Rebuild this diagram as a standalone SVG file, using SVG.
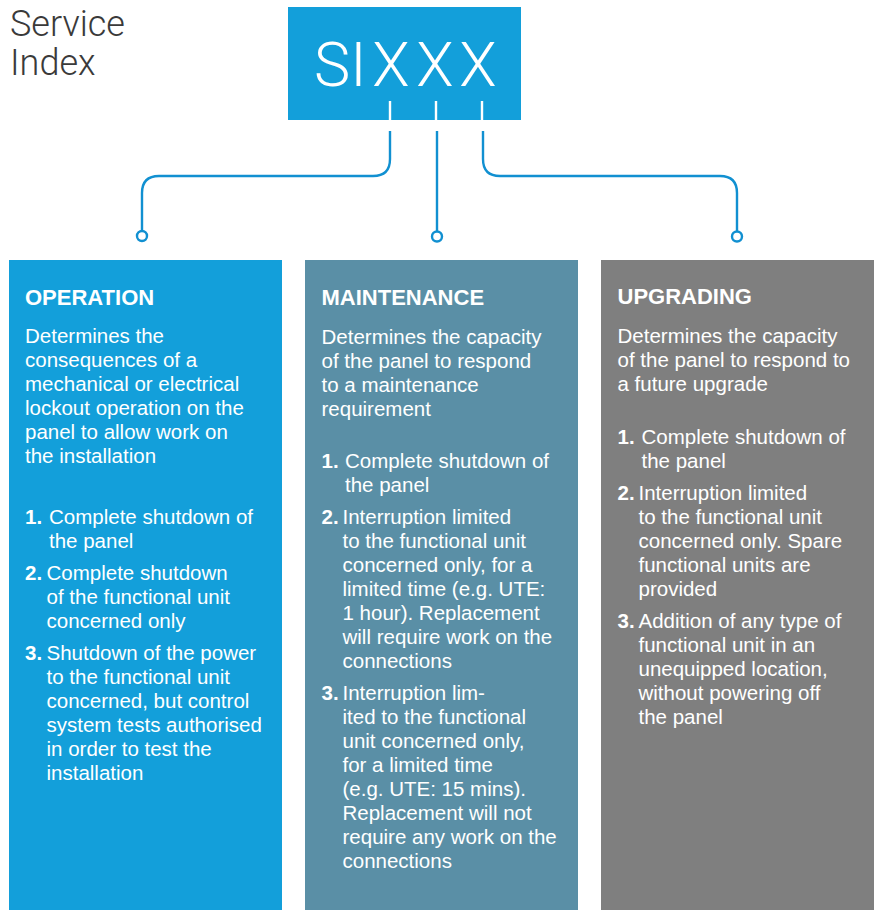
<svg xmlns="http://www.w3.org/2000/svg" width="877" height="910" viewBox="0 0 877 910">
<style>
.title{font-family:Roboto,"Liberation Sans",sans-serif;font-weight:300;font-size:36px;fill:#3a3a3a}
.code{font-family:Roboto,"Liberation Sans",sans-serif;font-weight:300;font-size:61px;fill:#ffffff}
.h{font-family:"Liberation Sans",Arial,sans-serif;font-weight:bold;font-size:22px;fill:#ffffff}
.t{font-family:"Liberation Sans",Arial,sans-serif;font-size:20.5px;fill:#ffffff}
.n{font-family:"Liberation Sans",Arial,sans-serif;font-weight:bold;font-size:20.5px;fill:#ffffff}
.conn{fill:none;stroke:#1190d1;stroke-width:2.4}
.dot{fill:#ffffff;stroke:#1190d1;stroke-width:2.4}
.tick{stroke:#ffffff;stroke-width:2.4}
</style>
<rect width="877" height="910" fill="#ffffff"/>

<g id="service-index-label">
<text class="title" x="10" y="36">Service</text>
<text class="title" x="10" y="75">Index</text>
</g>

<g id="code-box">
<rect x="288" y="7" width="233" height="113" fill="#139fda"/>
<text class="code" x="314" y="86">SI</text>
<text class="code" x="391" y="86" text-anchor="middle">X</text>
<text class="code" x="435" y="86" text-anchor="middle">X</text>
<text class="code" x="478" y="86" text-anchor="middle">X</text>
<line class="tick" x1="390" y1="101" x2="390" y2="120"/>
<line class="tick" x1="436" y1="101" x2="436" y2="120"/>
<line class="tick" x1="482" y1="101" x2="482" y2="120"/>
</g>

<g id="connectors">
<path class="conn" d="M390,131 V159 Q390,176 373,176 H159 Q142,176 142,193 V231"/>
<path class="conn" d="M437,131 V231"/>
<path class="conn" d="M483,131 V159 Q483,176 500,176 H720 Q737,176 737,193 V231"/>
<circle class="dot" cx="142" cy="236" r="5"/>
<circle class="dot" cx="437" cy="236.5" r="5"/>
<circle class="dot" cx="737" cy="236.5" r="5"/>
</g>

<g id="operation">
<rect x="9" y="260" width="273" height="650" fill="#139fda"/>
<text class="h" x="25" y="305">OPERATION</text>
<text class="t" x="25" y="343">Determines the</text>
<text class="t" x="25" y="367">consequences of a</text>
<text class="t" x="25" y="391">mechanical or electrical</text>
<text class="t" x="25" y="415">lockout operation on the</text>
<text class="t" x="25" y="439">panel to allow work on</text>
<text class="t" x="25" y="463">the installation</text>
<text class="n" x="25" y="524">1.</text>
<text class="t" x="49" y="524">Complete shutdown of</text>
<text class="t" x="49" y="548">the panel</text>
<text class="n" x="25" y="580">2.</text>
<text class="t" x="46.5" y="580">Complete shutdown</text>
<text class="t" x="46.5" y="604">of the functional unit</text>
<text class="t" x="46.5" y="628">concerned only</text>
<text class="n" x="25" y="660">3.</text>
<text class="t" x="46.5" y="660">Shutdown of the power</text>
<text class="t" x="46.5" y="684">to the functional unit</text>
<text class="t" x="46.5" y="708">concerned, but control</text>
<text class="t" x="46.5" y="732">system tests authorised</text>
<text class="t" x="46.5" y="756">in order to test the</text>
<text class="t" x="46.5" y="780">installation</text>
</g>

<g id="maintenance">
<rect x="305" y="260" width="273" height="650" fill="#5a8fa6"/>
<text class="h" x="321.5" y="305">MAINTENANCE</text>
<text class="t" x="321.5" y="344">Determines the capacity</text>
<text class="t" x="321.5" y="368">of the panel to respond</text>
<text class="t" x="321.5" y="392">to a maintenance</text>
<text class="t" x="321.5" y="416">requirement</text>
<text class="n" x="321.5" y="468">1.</text>
<text class="t" x="345" y="468">Complete shutdown of</text>
<text class="t" x="345" y="492">the panel</text>
<text class="n" x="321.5" y="524">2.</text>
<text class="t" x="342.5" y="524">Interruption limited</text>
<text class="t" x="342.5" y="548">to the functional unit</text>
<text class="t" x="342.5" y="572">concerned only, for a</text>
<text class="t" x="342.5" y="596">limited time (e.g. UTE:</text>
<text class="t" x="342.5" y="620">1 hour). Replacement</text>
<text class="t" x="342.5" y="644">will require work on the</text>
<text class="t" x="342.5" y="668">connections</text>
<text class="n" x="321.5" y="700">3.</text>
<text class="t" x="342.5" y="700">Interruption lim-</text>
<text class="t" x="342.5" y="724">ited to the functional</text>
<text class="t" x="342.5" y="748">unit concerned only,</text>
<text class="t" x="342.5" y="772">for a limited time</text>
<text class="t" x="342.5" y="796">(e.g. UTE: 15 mins).</text>
<text class="t" x="342.5" y="820">Replacement will not</text>
<text class="t" x="342.5" y="844">require any work on the</text>
<text class="t" x="342.5" y="868">connections</text>
</g>

<g id="upgrading">
<rect x="601" y="260" width="273" height="650" fill="#7f7f7f"/>
<text class="h" x="617.5" y="304">UPGRADING</text>
<text class="t" x="617.5" y="343">Determines the capacity</text>
<text class="t" x="617.5" y="367">of the panel to respond to</text>
<text class="t" x="617.5" y="391">a future upgrade</text>
<text class="n" x="617.5" y="444">1.</text>
<text class="t" x="641.5" y="444">Complete shutdown of</text>
<text class="t" x="641.5" y="468">the panel</text>
<text class="n" x="617.5" y="500">2.</text>
<text class="t" x="638.5" y="500">Interruption limited</text>
<text class="t" x="638.5" y="524">to the functional unit</text>
<text class="t" x="638.5" y="548">concerned only. Spare</text>
<text class="t" x="638.5" y="572">functional units are</text>
<text class="t" x="638.5" y="596">provided</text>
<text class="n" x="617.5" y="628">3.</text>
<text class="t" x="638.5" y="628">Addition of any type of</text>
<text class="t" x="638.5" y="652">functional unit in an</text>
<text class="t" x="638.5" y="676">unequipped location,</text>
<text class="t" x="638.5" y="700">without powering off</text>
<text class="t" x="638.5" y="724">the panel</text>
</g>
</svg>
